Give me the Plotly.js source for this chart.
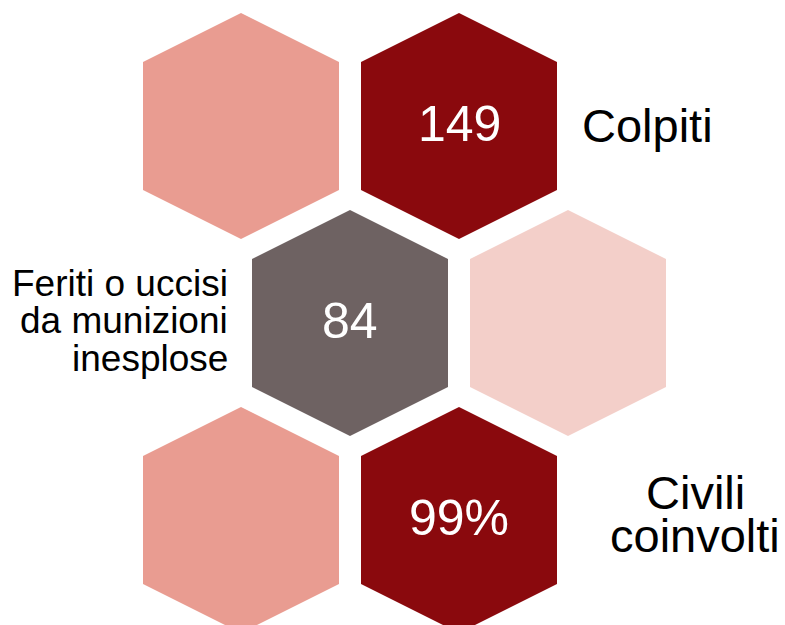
<!DOCTYPE html>
<html>
<head>
<meta charset="utf-8">
<script src="https://cdn.plot.ly/plotly-3.0.1.min.js"></script>
<style>html,body{margin:0;padding:0;background:#fff;}#chart{width:785px;height:625px;}</style>
</head>
<body>
<div id="chart"></div>
<script>
// ---- data ----
var hexCol    = [0, 1, 0.5, 1.5, 0, 1];
var hexRow    = [0, 0, 1, 1, 2, 2];
var hexValue  = ["", "149", "84", "", "", "99%"];
var hexColor  = ["#E99C91", "#8A090D", "#6E6262", "#F3CFC9", "#E99C91", "#8A090D"];
var labelTop    = ["Colpiti"];
var labelMiddle = ["Feriti o uccisi", "da munizioni", "inesplose"];
var labelBottom = ["Civili", "coinvolti"];

// ---- geometry (pixel-like data space) ----
var X0 = 241, Y0 = 126, DX = 218, DY = 197;
var HW = 98, HH = 113, SH = 64;
function cx(i){ return X0 + DX*hexCol[i]; }
function cy(i){ return Y0 + DY*hexRow[i]; }

var traces = [];
for (var i = 0; i < hexCol.length; i++) {
  var x = cx(i), y = cy(i);
  traces.push({
    type: 'scatter', mode: 'lines', fill: 'toself',
    x: [x, x+HW, x+HW, x, x-HW, x-HW, x],
    y: [y-HH, y-SH, y+SH, y+HH, y+SH, y-SH, y-HH],
    fillcolor: hexColor[i], line: {width: 0, color: hexColor[i]},
    hoverinfo: 'skip', showlegend: false
  });
}

var font = "'Liberation Sans', Arial, sans-serif";
var ann = [];
for (var j = 0; j < hexValue.length; j++) {
  if (hexValue[j]) ann.push({x: cx(j), y: cy(j) - 2, xref: 'x', yref: 'y', text: hexValue[j],
    showarrow: false, xanchor: 'center', yanchor: 'middle',
    font: {family: font, size: 50, color: '#ffffff'}});
}
// Top label, right of hex 1
ann.push({x: cx(1) + 121, y: cy(1) - 1, xref: 'x', yref: 'y', text: labelTop[0], showarrow: false,
  xanchor: 'left', yanchor: 'middle', font: {family: font, size: 47, color: '#000'}});
// Middle label, left of hex 2
for (var k = 0; k < labelMiddle.length; k++) {
  ann.push({x: cx(2) - 120, y: cy(2) - 40 + 37.5*k, xref: 'x', yref: 'y', text: labelMiddle[k], showarrow: false,
    xanchor: 'right', yanchor: 'middle', font: {family: font, size: 37, color: '#000'}});
}
// Bottom label, right of hex 5
for (var m = 0; m < labelBottom.length; m++) {
  ann.push({x: cx(5) + 236, y: cy(5) - 28 + 43*m, xref: 'x', yref: 'y', text: labelBottom[m], showarrow: false,
    xanchor: 'center', yanchor: 'middle', font: {family: font, size: 47, color: '#000'}});
}

var layout = {
  width: 785, height: 625,
  margin: {l: 0, r: 0, t: 0, b: 0},
  paper_bgcolor: '#ffffff', plot_bgcolor: '#ffffff',
  xaxis: {range: [0, 785], visible: false, fixedrange: true},
  yaxis: {range: [625, 0], visible: false, fixedrange: true},
  annotations: ann, showlegend: false
};
Plotly.newPlot('chart', traces, layout, {displayModeBar: false, staticPlot: true});
</script>
</body>
</html>
